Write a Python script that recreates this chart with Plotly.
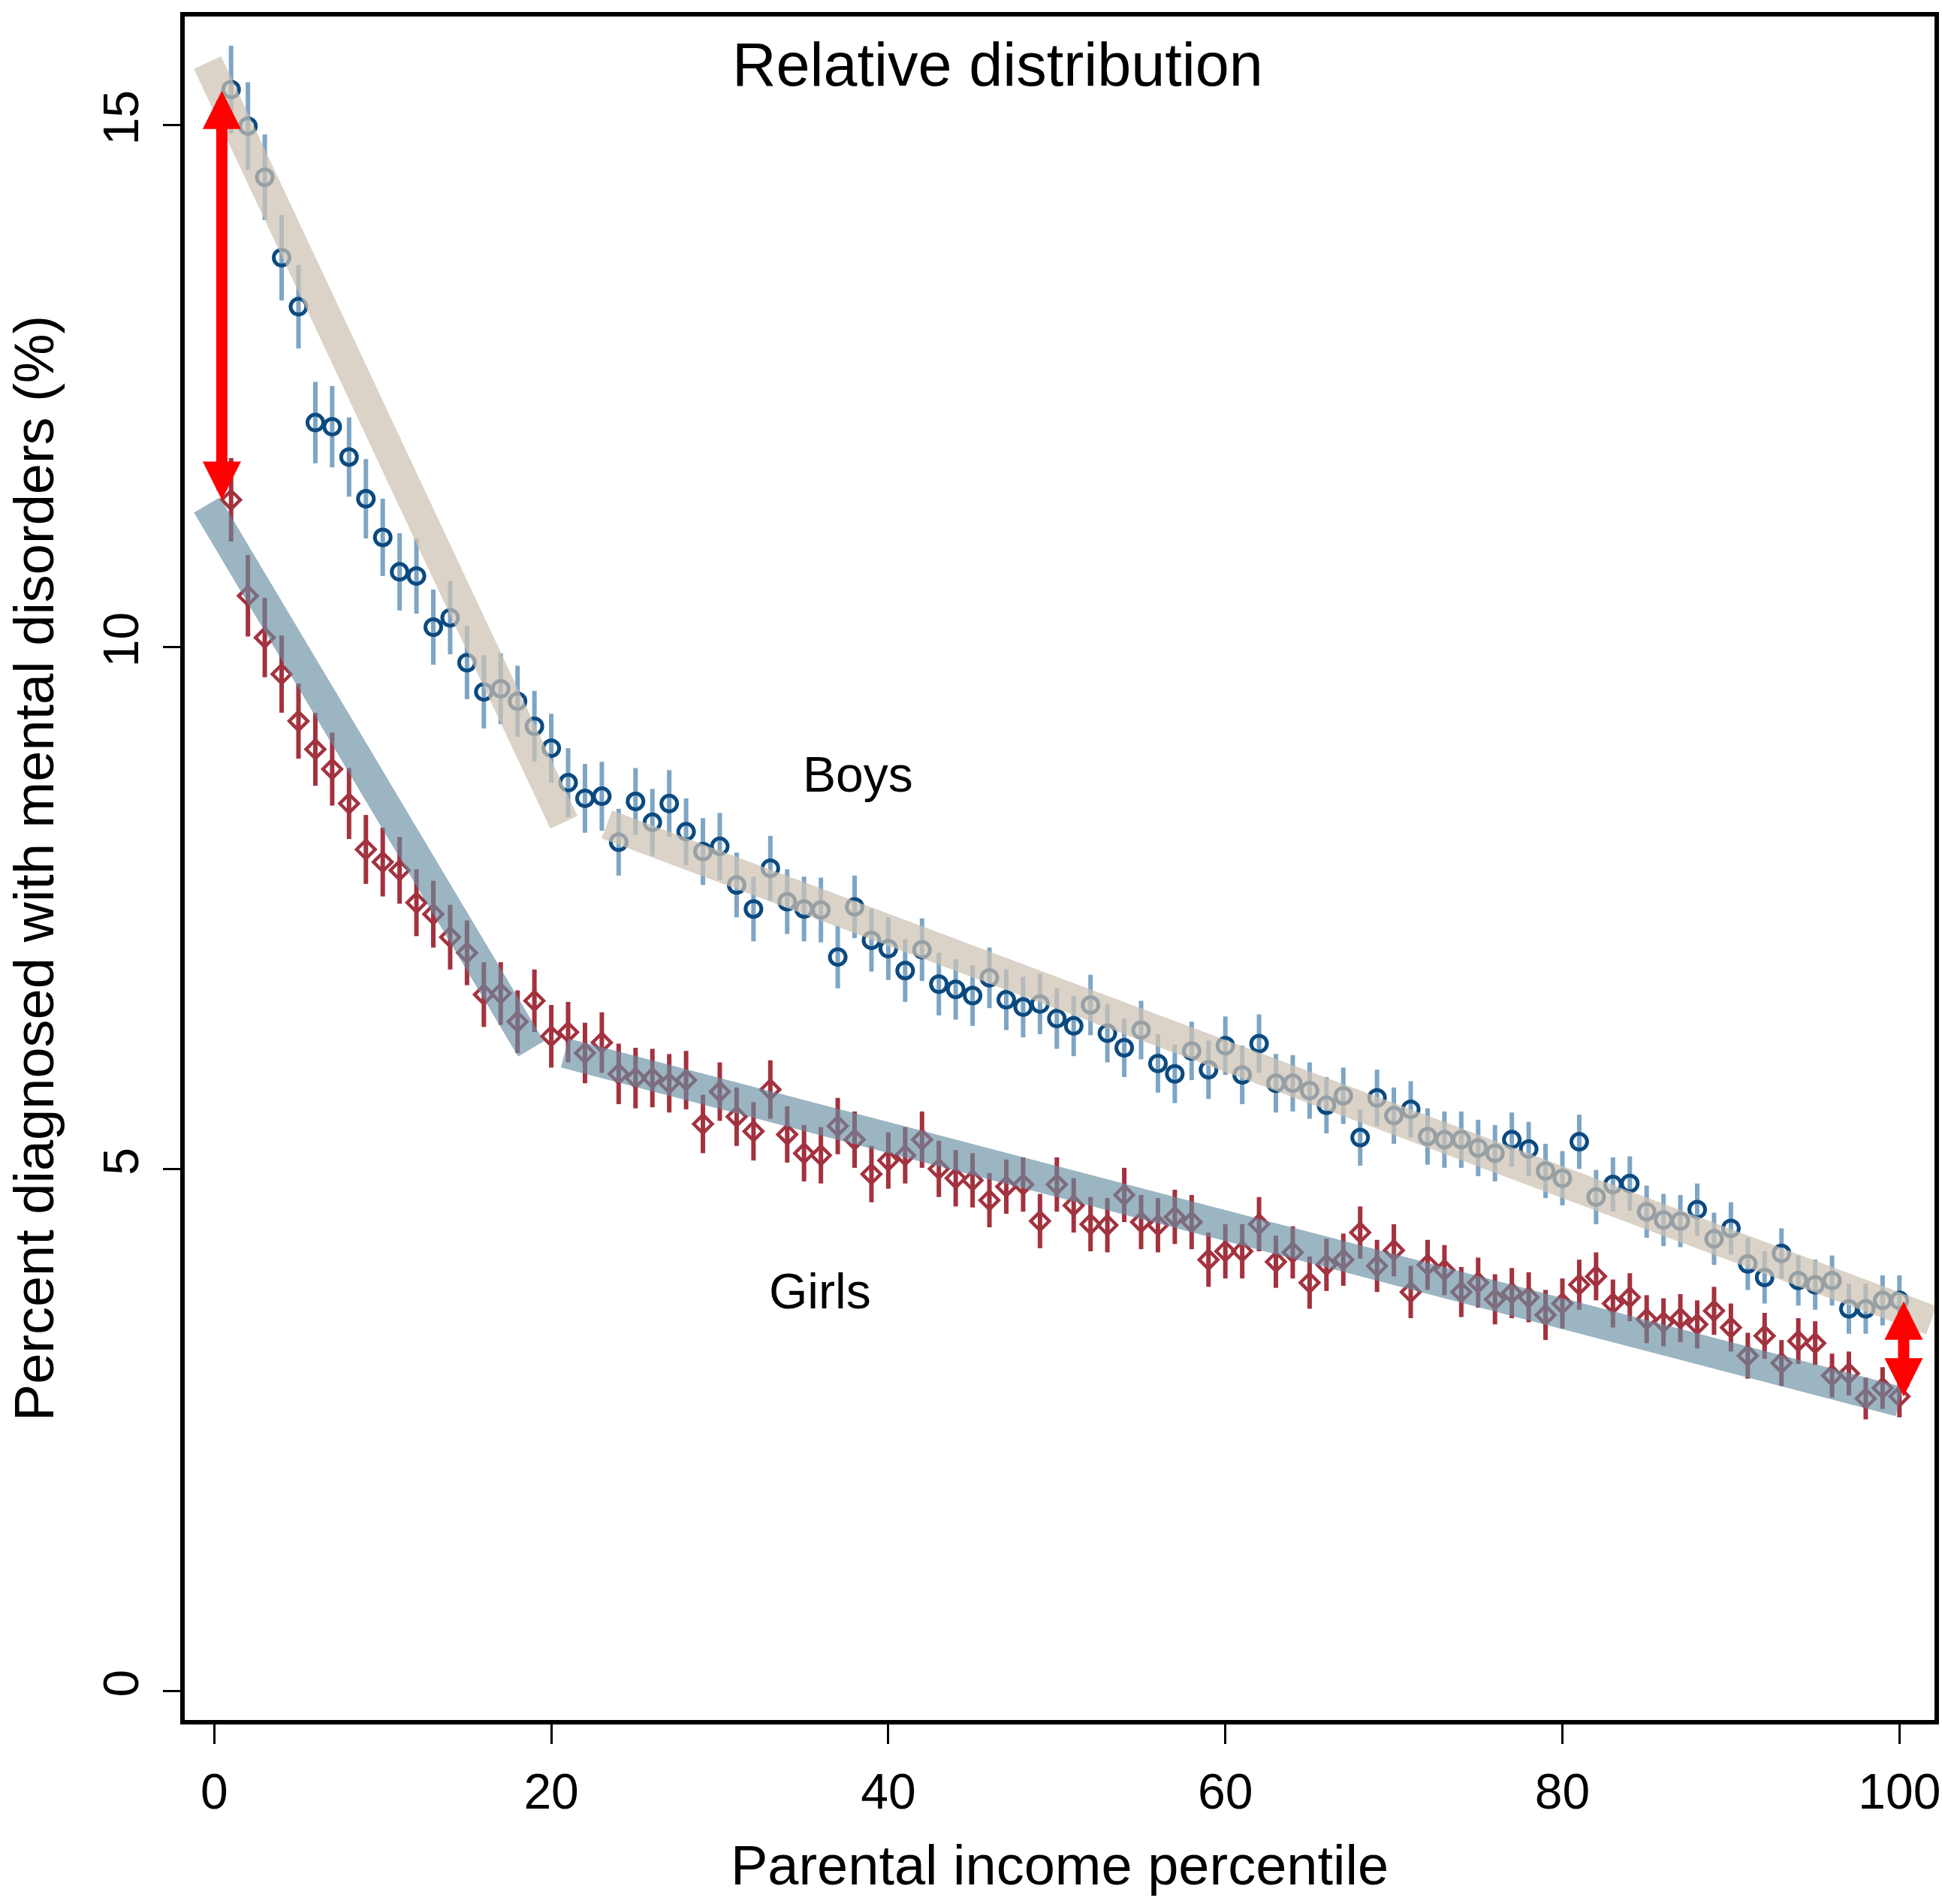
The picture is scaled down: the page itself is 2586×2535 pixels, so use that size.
import plotly.graph_objects as go

# Parental income percentile (1..100)
percentile = list(range(1, 101))

# Share diagnosed with a mental disorder (%), by parental income percentile
boys_pct = [
    15.34, 14.99, 14.50, 13.73, 13.26, 12.15, 12.11, 11.82, 11.42, 11.05,
    10.72, 10.68, 10.19, 10.28, 9.85, 9.57, 9.60, 9.48, 9.24, 9.03,
    8.70, 8.55, 8.57, 8.13, 8.52, 8.32, 8.50, 8.23, 8.04, 8.09,
    7.72, 7.49, 7.88, 7.56, 7.49, 7.48, 7.03, 7.51, 7.19, 7.11,
    6.90, 7.10, 6.77, 6.72, 6.66, 6.83, 6.62, 6.55, 6.58, 6.44,
    6.37, 6.57, 6.30, 6.16, 6.33, 6.01, 5.91, 6.13, 5.95, 6.18,
    5.90, 6.20, 5.82, 5.82, 5.75, 5.61, 5.70, 5.30, 5.68, 5.51,
    5.57, 5.31, 5.28, 5.28, 5.20, 5.15, 5.28, 5.19, 4.98, 4.91,
    5.26, 4.73, 4.85, 4.86, 4.59, 4.51, 4.50, 4.61, 4.33, 4.43,
    4.09, 3.96, 4.19, 3.93, 3.89, 3.93, 3.66, 3.66, 3.74, 3.74,
]
girls_pct = [
    11.41, 10.49, 10.09, 9.74, 9.29, 9.02, 8.83, 8.50, 8.06, 7.94,
    7.86, 7.55, 7.44, 7.22, 7.07, 6.67, 6.68, 6.41, 6.61, 6.27,
    6.31, 6.11, 6.21, 5.91, 5.87, 5.87, 5.82, 5.85, 5.43, 5.74,
    5.50, 5.36, 5.76, 5.33, 5.15, 5.13, 5.41, 5.28, 4.95, 5.08,
    5.13, 5.28, 5.00, 4.91, 4.89, 4.70, 4.83, 4.85, 4.50, 4.85,
    4.65, 4.47, 4.46, 4.75, 4.49, 4.46, 4.54, 4.49, 4.13, 4.21,
    4.21, 4.47, 4.11, 4.20, 3.91, 4.08, 4.13, 4.39, 4.07, 4.22,
    3.82, 4.08, 4.03, 3.82, 3.91, 3.75, 3.81, 3.77, 3.60, 3.71,
    3.89, 3.97, 3.71, 3.77, 3.56, 3.53, 3.57, 3.51, 3.64, 3.48,
    3.21, 3.40, 3.14, 3.35, 3.33, 3.02, 3.04, 2.80, 2.90, 2.82,
]

# Half-width of the 95% confidence intervals (percentage points)
boys_ci = [
    0.42, 0.42, 0.41, 0.41, 0.40, 0.39, 0.39, 0.38, 0.38, 0.37,
    0.37, 0.36, 0.36, 0.35, 0.35, 0.35, 0.34, 0.34, 0.34, 0.33,
    0.33, 0.33, 0.33, 0.32, 0.32, 0.32, 0.32, 0.32, 0.32, 0.32,
    0.31, 0.31, 0.31, 0.31, 0.31, 0.31, 0.30, 0.30, 0.30, 0.30,
    0.30, 0.30, 0.30, 0.29, 0.29, 0.29, 0.29, 0.29, 0.29, 0.29,
    0.29, 0.29, 0.28, 0.28, 0.28, 0.28, 0.28, 0.28, 0.28, 0.28,
    0.28, 0.28, 0.28, 0.27, 0.27, 0.27, 0.27, 0.27, 0.27, 0.27,
    0.27, 0.27, 0.27, 0.27, 0.27, 0.27, 0.26, 0.26, 0.26, 0.26,
    0.26, 0.26, 0.26, 0.26, 0.25, 0.25, 0.25, 0.25, 0.25, 0.25,
    0.25, 0.25, 0.24, 0.24, 0.24, 0.24, 0.24, 0.24, 0.24, 0.24,
]
girls_ci = [
    0.40, 0.39, 0.38, 0.37, 0.36, 0.35, 0.35, 0.34, 0.33, 0.33,
    0.32, 0.32, 0.32, 0.31, 0.31, 0.31, 0.30, 0.30, 0.30, 0.30,
    0.29, 0.29, 0.29, 0.29, 0.29, 0.28, 0.28, 0.28, 0.28, 0.28,
    0.28, 0.28, 0.28, 0.27, 0.27, 0.27, 0.27, 0.27, 0.27, 0.27,
    0.27, 0.27, 0.27, 0.27, 0.26, 0.26, 0.26, 0.26, 0.26, 0.26,
    0.26, 0.26, 0.26, 0.26, 0.26, 0.26, 0.26, 0.26, 0.26, 0.26,
    0.26, 0.26, 0.25, 0.25, 0.25, 0.25, 0.25, 0.25, 0.25, 0.25,
    0.25, 0.24, 0.24, 0.24, 0.24, 0.24, 0.24, 0.24, 0.24, 0.24,
    0.24, 0.23, 0.23, 0.23, 0.23, 0.23, 0.23, 0.23, 0.23, 0.23,
    0.22, 0.22, 0.22, 0.22, 0.21, 0.21, 0.21, 0.20, 0.20, 0.20,
]

# Piecewise-linear fits with a break near the 20th percentile
boys_fit_x = [-0.4, 20.75, None, 23.3, 101.9]
boys_fit_y = [15.6, 8.32, None, 8.30, 3.55]
girls_fit_x = [-0.44, 18.8, None, 20.8, 100.0]
girls_fit_y = [11.36, 6.15, None, 6.11, 2.77]

# Boy-girl gap arrows drawn at the bottom and top of the distribution
gap_arrow_x = [0.45, 100.25]
gap_arrow_boys = [boys_pct[0], boys_pct[-1]]
gap_arrow_girls = [girls_pct[0], girls_pct[-1]]

x_ticks = [0, 20, 40, 60, 80, 100]
y_ticks = [0, 5, 10, 15]

panel_title = "Relative distribution"
series_labels = ["Boys", "Girls"]
series_label_x = [38.2, 35.95]
series_label_y = [8.78, 3.83]

FONT = "Liberation Sans, Arial, Helvetica, sans-serif"
BOYS_COLOR = "#0b4a7f"
BOYS_BAR = "#7ea5c4"
GIRLS_COLOR = "#a3323f"

fig = go.Figure()

fig.add_trace(go.Scatter(
    x=percentile, y=boys_pct, mode="markers", name="Boys",
    marker=dict(symbol="circle-open", size=21, color=BOYS_COLOR, line=dict(width=5)),
    error_y=dict(type="data", array=boys_ci, visible=True, color=BOYS_BAR,
                 thickness=6, width=0),
))
fig.add_trace(go.Scatter(
    x=percentile, y=girls_pct, mode="markers", name="Girls",
    marker=dict(symbol="diamond-open", size=19, color=GIRLS_COLOR, line=dict(width=4.5)),
    error_y=dict(type="data", array=girls_ci, visible=True, color=GIRLS_COLOR,
                 thickness=6, width=0),
))

# Fitted trend bands, semi-transparent on top of the points
fig.add_trace(go.Scatter(
    x=boys_fit_x, y=boys_fit_y, mode="lines", name="Boys fit",
    line=dict(color="rgba(205,194,179,0.72)", width=40),
    connectgaps=False, hoverinfo="skip",
))
fig.add_trace(go.Scatter(
    x=girls_fit_x, y=girls_fit_y, mode="lines", name="Girls fit",
    line=dict(color="rgba(103,141,161,0.65)", width=40),
    connectgaps=False, hoverinfo="skip",
))

annotations = []
for ax_x, yb, yg in zip(gap_arrow_x, gap_arrow_boys, gap_arrow_girls):
    annotations.append(dict(
        x=ax_x, y=yg, ax=ax_x, ay=yb, xref="x", yref="y", axref="x", ayref="y",
        text="", showarrow=True, arrowside="end+start",
        arrowhead=2, startarrowhead=2, arrowsize=0.68, startarrowsize=0.68,
        arrowwidth=15, arrowcolor="#ff0000", standoff=0, startstandoff=0,
    ))

annotations.append(dict(
    x=46.5, y=15.58, xref="x", yref="y", text=panel_title, showarrow=False,
    font=dict(family=FONT, size=81, color="black"),
))
for lbl, lx, ly in zip(series_labels, series_label_x, series_label_y):
    annotations.append(dict(
        x=lx, y=ly, xref="x", yref="y", text=lbl, showarrow=False,
        font=dict(family=FONT, size=66, color="black"),
    ))

fig.update_layout(
    width=2586, height=2535,
    margin=dict(l=246, r=10, t=22, b=245, autoexpand=False),
    paper_bgcolor="white", plot_bgcolor="white",
    showlegend=False,
    font=dict(family=FONT, color="black"),
    annotations=annotations,
)

fig.update_xaxes(
    range=[-1.75, 102.08], tickmode="array", tickvals=x_ticks,
    ticks="outside", ticklen=26, tickwidth=3, tickcolor="black",
    ticklabelstandoff=7,
    showline=True, linewidth=6, linecolor="black", mirror=True,
    showgrid=False, zeroline=False,
    tickfont=dict(family=FONT, size=66, color="black"),
    title=dict(text="Parental income percentile", standoff=38,
               font=dict(family=FONT, size=74, color="black")),
    automargin=False,
)
fig.update_yaxes(
    range=[-0.28, 16.04], tickmode="array", tickvals=y_ticks, tickangle=-90,
    ticks="outside", ticklen=23, tickwidth=3, tickcolor="black",
    ticklabelstandoff=7,
    showline=True, linewidth=6, linecolor="black", mirror=True,
    showgrid=False, zeroline=False,
    tickfont=dict(family=FONT, size=66, color="black"),
    title=dict(text="Percent diagnosed with mental disorders (%)", standoff=30,
               font=dict(family=FONT, size=74, color="black")),
    automargin=False,
)

fig.write_html("out.html")
